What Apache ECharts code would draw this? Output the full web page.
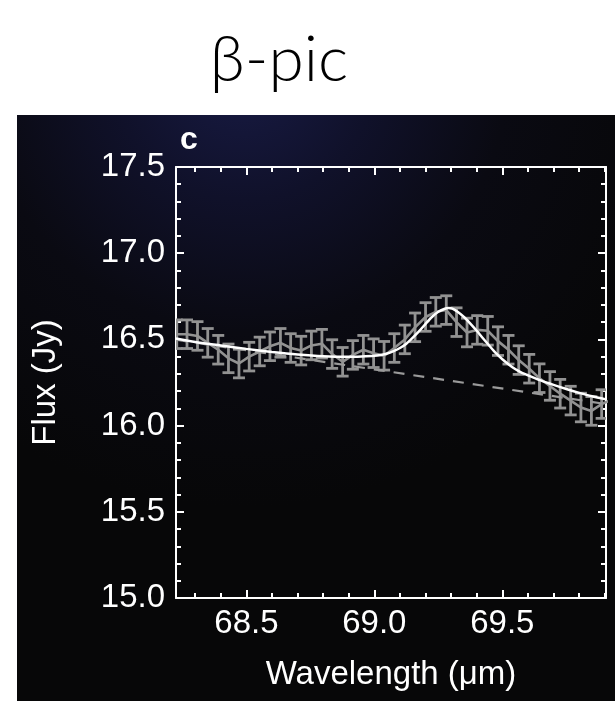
<!DOCTYPE html>
<html>
<head>
<meta charset="utf-8">
<script src="https://cdn.jsdelivr.net/npm/echarts@6/dist/echarts.min.js"></script>
<style>
html,body{margin:0;padding:0;background:#fff;}
#chart{width:615px;height:701px;}
</style>
</head>
<body>
<div id="chart"></div>
<script>
// ---- data ----
const wavelength = [68.228, 68.268, 68.309, 68.349, 68.390, 68.430, 68.471, 68.511, 68.552, 68.592,
  68.633, 68.673, 68.714, 68.754, 68.795, 68.835, 68.876, 68.916, 68.957, 68.997,
  69.038, 69.078, 69.119, 69.159, 69.200, 69.240, 69.281, 69.321, 69.362, 69.402,
  69.443, 69.483, 69.524, 69.564, 69.605, 69.645, 69.686, 69.726, 69.767, 69.807,
  69.848, 69.888, 69.929];
const flux = [16.53, 16.53, 16.52, 16.48, 16.44, 16.39, 16.36, 16.40, 16.43, 16.46,
  16.48, 16.45, 16.435, 16.465, 16.475, 16.415, 16.37, 16.41, 16.44, 16.42,
  16.405, 16.45, 16.50, 16.57, 16.63, 16.66, 16.67, 16.60, 16.54, 16.555,
  16.55, 16.49, 16.44, 16.38, 16.33, 16.275, 16.23, 16.185, 16.145, 16.105,
  16.085, 16.125, 16.15];
const fluxErr = [0.083, 0.083, 0.083, 0.083, 0.083, 0.083, 0.083, 0.083, 0.083, 0.083,
  0.083, 0.083, 0.083, 0.083, 0.083, 0.083, 0.083, 0.083, 0.083, 0.083,
  0.083, 0.083, 0.083, 0.083, 0.083, 0.083, 0.083, 0.083, 0.083, 0.083,
  0.083, 0.083, 0.083, 0.083, 0.083, 0.083, 0.083, 0.083, 0.083, 0.083,
  0.083, 0.083, 0.083];
const fitWave = [68.225, 68.30, 68.40, 68.50, 68.60, 68.70, 68.80, 68.90, 68.95, 69.00,
  69.025, 69.05, 69.075, 69.10, 69.125, 69.15, 69.175, 69.20, 69.225, 69.25,
  69.275, 69.29, 69.305, 69.325, 69.35, 69.375, 69.40, 69.425, 69.45, 69.475,
  69.50, 69.525, 69.55, 69.575, 69.60, 69.65, 69.70, 69.75, 69.80, 69.85, 69.905];
const fitFlux = [16.505, 16.485, 16.465, 16.445, 16.427, 16.412, 16.402, 16.399, 16.401, 16.405,
  16.41, 16.418, 16.432, 16.45, 16.475, 16.51, 16.548, 16.59, 16.63, 16.66,
  16.678, 16.682, 16.678, 16.66, 16.63, 16.592, 16.55, 16.505, 16.462, 16.42,
  16.385, 16.355, 16.328, 16.308, 16.292, 16.262, 16.236, 16.212, 16.19, 16.17, 16.152];
const contWave = [68.225, 69.905];
const contFlux = [16.498, 16.125];
const xMajorTicks = [68.5, 69.0, 69.5];
const xMinorTicks = [68.3, 68.4, 68.6, 68.7, 68.8, 68.9, 69.1, 69.2, 69.3, 69.4, 69.6, 69.7, 69.8, 69.9];
const yTicks = [15.0, 15.5, 16.0, 16.5, 17.0, 17.5];
const titleText = 'β-pic';
const panelLabel = 'c';
const xName = 'Wavelength (μm)';
const yName = 'Flux (Jy)';

// ---- chart ----
const chart = echarts.init(document.getElementById('chart'), null, {renderer: 'canvas'});
const FONT = '"Liberation Sans", Arial, sans-serif';
const WHITE = '#ffffff';
const GRAY = '#929292';
const FS = 33;
const X_MIN = 68.225, X_MAX = 69.905;
const Y_MIN = yTicks[0], Y_MAX = yTicks[yTicks.length - 1];

function xAxisDef(pos, ticks, len, showLabel, showLine) {
  return {
    type: 'value', position: pos, min: X_MIN, max: X_MAX,
    axisLine: {show: showLine, onZero: false, lineStyle: {color: WHITE, width: 2}},
    axisTick: {show: true, inside: true, length: len, customValues: ticks, lineStyle: {color: WHITE, width: 2}},
    axisLabel: {show: showLabel, customValues: ticks, color: WHITE, fontSize: FS, fontFamily: FONT, margin: 9,
      formatter: v => v.toFixed(1)},
    splitLine: {show: false}
  };
}
function yAxisDef(pos, showLabel) {
  return {
    type: 'value', position: pos, min: Y_MIN, max: Y_MAX, interval: 0.5,
    axisLine: {show: true, onZero: false, lineStyle: {color: WHITE, width: 2}},
    axisTick: {show: true, inside: true, length: 8, lineStyle: {color: WHITE, width: 2}},
    minorTick: {show: true, splitNumber: 5, length: 5, lineStyle: {color: WHITE, width: 2}},
    axisLabel: {show: showLabel, color: WHITE, fontSize: FS, fontFamily: FONT, margin: 11,
      formatter: v => v.toFixed(1)},
    splitLine: {show: false}, minorSplitLine: {show: false}
  };
}

const xa0 = xAxisDef('bottom', xMajorTicks, 8, true, true);
xa0.name = xName; xa0.nameLocation = 'middle'; xa0.nameGap = 60;
xa0.nameTextStyle = {color: WHITE, fontSize: FS, fontFamily: FONT};
const ya0 = yAxisDef('left', true);
ya0.name = yName; ya0.nameLocation = 'middle'; ya0.nameGap = 114;
ya0.nameTextStyle = {color: WHITE, fontSize: FS, fontFamily: FONT};

const option = {
  backgroundColor: '#ffffff',
  animation: false,
  graphic: [
    {type: 'rect', z: -10, silent: true,
      shape: {x: 17, y: 115, width: 598, height: 586},
      style: {fill: {type: 'radial', x: 0.38, y: -0.08, r: 0.75,
        colorStops: [{offset: 0, color: '#181b45'}, {offset: 0.3, color: '#10112a'}, {offset: 0.6, color: '#0a0a12'}, {offset: 1, color: '#070708'}]}}},
    {type: 'text', x: 279, y: 60, silent: true,
      style: {text: titleText, fill: '#000', font: '300 64px Lato, "Open Sans", Roboto, sans-serif',
        textAlign: 'center', textVerticalAlign: 'middle'}},
    {type: 'text', x: 180, y: 140, silent: true,
      style: {text: panelLabel, fill: WHITE, font: 'bold 32px ' + FONT,
        textAlign: 'left', textVerticalAlign: 'middle'}}
  ],
  grid: {left: 176, right: 9, top: 167, bottom: 103, containLabel: false},
  xAxis: [
    xa0,
    xAxisDef('bottom', xMinorTicks, 5, false, false),
    xAxisDef('top', xMajorTicks, 8, false, true),
    xAxisDef('top', xMinorTicks, 5, false, false)
  ],
  yAxis: [ya0, yAxisDef('right', false)],
  series: [
    {
      type: 'custom', xAxisIndex: 0, yAxisIndex: 0, clip: true, z: 2,
      data: wavelength.map((w, i) => [w, flux[i] - fluxErr[i], flux[i] + fluxErr[i]]),
      encode: {x: 0, y: [1, 2]},
      renderItem: function (params, api) {
        const lo = api.coord([api.value(0), api.value(1)]);
        const hi = api.coord([api.value(0), api.value(2)]);
        const hw = 6;
        const st = {stroke: GRAY, lineWidth: 2.8, fill: null};
        return {type: 'group', children: [
          {type: 'line', shape: {x1: lo[0], y1: lo[1], x2: hi[0], y2: hi[1]}, style: st},
          {type: 'line', shape: {x1: lo[0] - hw, y1: lo[1], x2: lo[0] + hw, y2: lo[1]}, style: st},
          {type: 'line', shape: {x1: hi[0] - hw, y1: hi[1], x2: hi[0] + hw, y2: hi[1]}, style: st}
        ]};
      }
    },
    {
      type: 'line', xAxisIndex: 0, yAxisIndex: 0, clip: true, z: 3,
      data: wavelength.map((w, i) => [w, flux[i]]),
      showSymbol: false, symbol: 'none',
      lineStyle: {color: GRAY, width: 2.6}
    },
    {
      type: 'line', xAxisIndex: 0, yAxisIndex: 0, clip: true, z: 4,
      data: contWave.map((w, i) => [w, contFlux[i]]),
      showSymbol: false, symbol: 'none',
      lineStyle: {color: '#9a9a9a', width: 2.2, type: [11, 9]}
    },
    {
      type: 'line', xAxisIndex: 0, yAxisIndex: 0, clip: true, z: 5,
      data: fitWave.map((w, i) => [w, fitFlux[i]]),
      showSymbol: false, symbol: 'none', smooth: 0.25,
      lineStyle: {color: WHITE, width: 2.5}
    }
  ]
};
chart.setOption(option);
</script>
</body>
</html>
